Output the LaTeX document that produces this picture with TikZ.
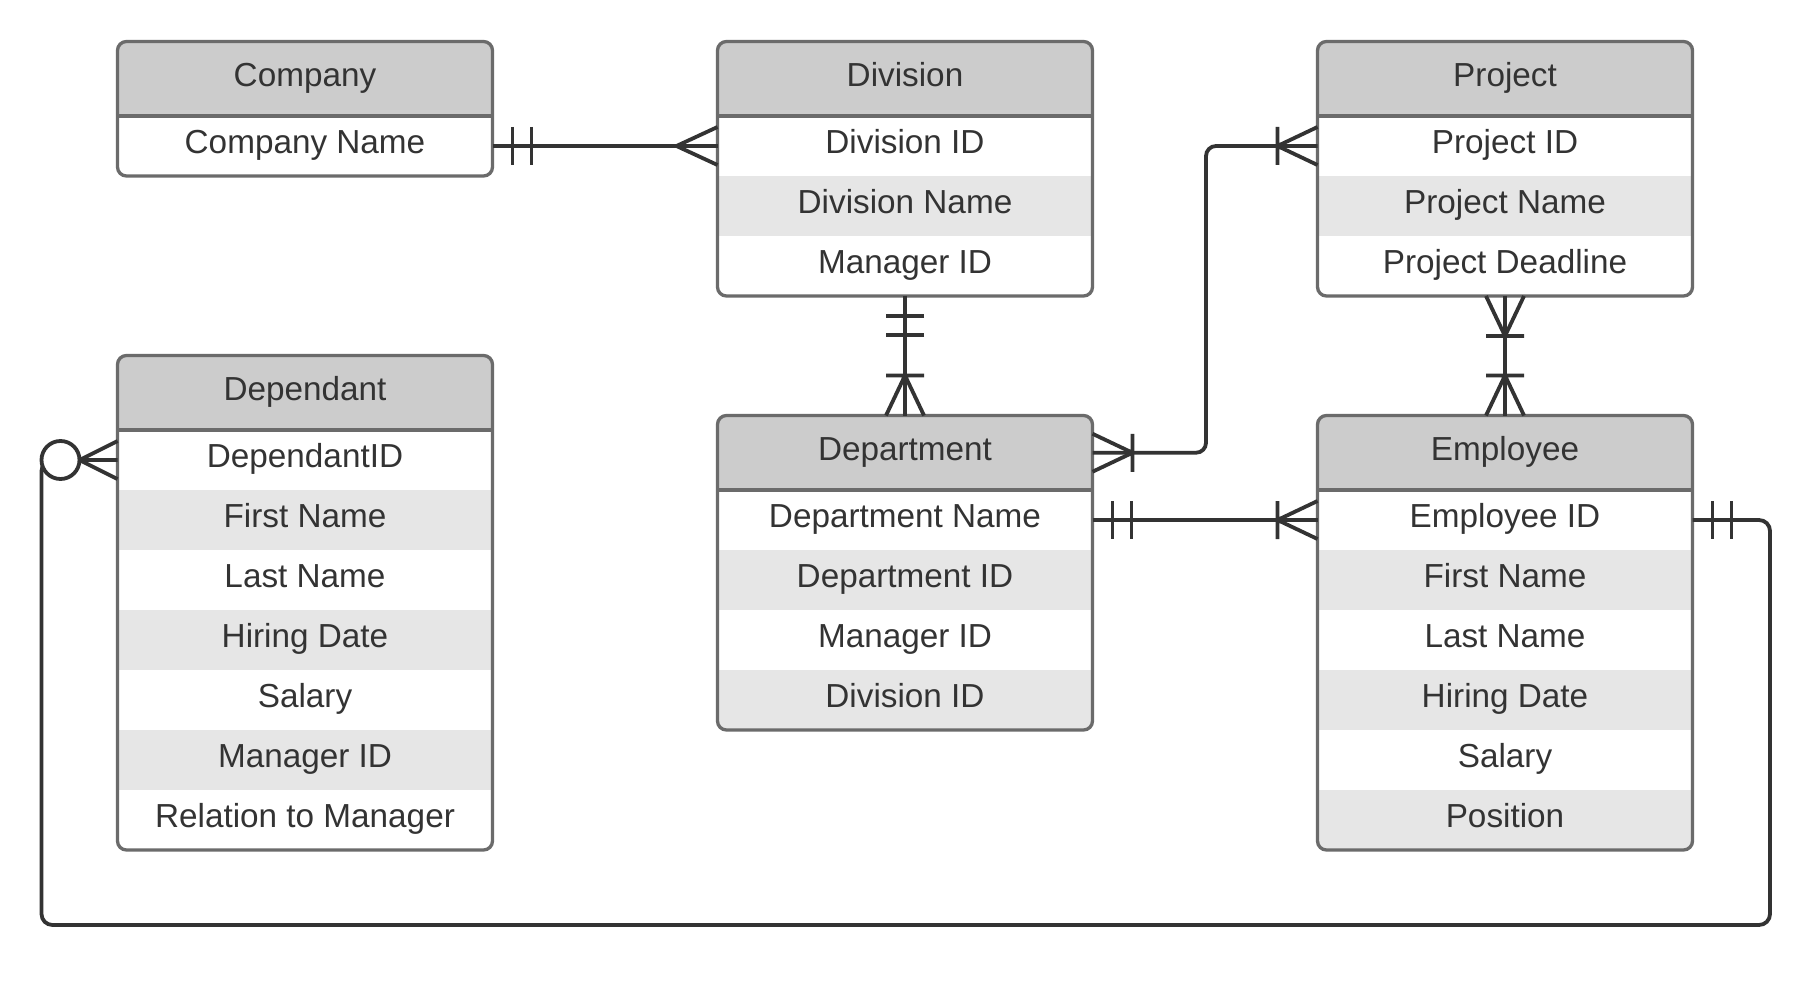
\documentclass[tikz,border=0pt]{standalone}
\usepackage{fontspec}
\setmainfont{Liberation Sans}
\definecolor{hdrgray}{HTML}{CCCCCC}
\definecolor{rowgray}{HTML}{E6E6E6}
\definecolor{framegray}{HTML}{6B6B6B}
\definecolor{ink}{HTML}{333333}

% Entity table: name, left x, top y, title, number of rows, row texts
\newcommand{\erentity}[6]{%
  \begin{scope}
    \clip[rounded corners=9] (#2,#3) rectangle ++(375,{74.5+#5*60});
    \node[entitle] (#1) at (#2,#3) {#4};
    \foreach \t [count=\i] in {#6}{%
      \ifodd\i\relax\def\rowfill{white}\else\def\rowfill{rowgray}\fi
      \node[enfield, fill=\rowfill] (#1-\i) at (#2,{#3+74.5+(\i-1)*60}) {\t};
    }
  \end{scope}
  \draw[entframe, rounded corners=9] (#2,#3) rectangle ++(375,{74.5+#5*60});
  \draw[entframe] (#2,{#3+74.5}) -- ++(375,0);
}

\begin{document}
\begin{tikzpicture}[x=1pt,y=-1pt,
  enfield/.style={minimum width=375, minimum height=60, inner sep=0, outer sep=0,
    anchor=north west, text=ink, font=\fontsize{33.3}{40}\selectfont,
    text height=23.5pt, text depth=8.5pt},
  entitle/.style={enfield, minimum height=74.5, fill=hdrgray},
  entframe/.style={draw=framegray, line width=3.3},
  conn/.style={draw=ink, line width=3.8},
  % relationship ends, drawn with the entity border at the origin
  mandone/.pic={\draw[conn] (20,-19) -- (20,19) (39,-19) -- (39,19);},
  crowmany/.pic={\draw[conn] (41,0) -- (0,-19) (41,0) -- (0,19);},
  crowonemany/.pic={\draw[conn] (40,0) -- (0,-19) (40,0) -- (0,19) (40,-19) -- (40,19);},
  crowzeromany/.pic={\draw[conn] (38,0) -- (0,-19) (38,0) -- (0,19);
    \draw[conn, fill=white] (57,0) circle[radius=19];}
]
\useasboundingbox (0,0) rectangle (1809,981);
\fill[white] (0,0) rectangle (1809,981);

\erentity{comp}{117.5}{41.5}{Company}{1}{Company Name}
\erentity{div}{717.5}{41.5}{Division}{3}{Division ID, Division Name, Manager ID}
\erentity{proj}{1317.5}{41.5}{Project}{3}{Project ID, Project Name, Project Deadline}
\erentity{dep}{117.5}{355.5}{Dependant}{7}{DependantID, First Name, Last Name, Hiring Date, Salary, Manager ID, Relation to Manager}
\erentity{dept}{717.5}{415.5}{Department}{4}{Department Name, Department ID, Manager ID, Division ID}
\erentity{emp}{1317.5}{415.5}{Employee}{6}{Employee ID, First Name, Last Name, Hiring Date, Salary, Position}

\coordinate (bendA) at (1206,0);
\coordinate (loopR) at (1770,925);
\coordinate (loopL) at (41.5,925);

% Company -- Division
\draw[conn] (comp-1.east) -- (div-1.west);
\pic at (comp-1.east) {mandone};
\pic[rotate=180] at (div-1.west) {crowmany};

% Division -- Department
\draw[conn] (div-3.south) -- (dept.north);
\pic[rotate=-90] at (div-3.south) {mandone};
\pic[rotate=90] at (dept.north) {crowonemany};

% Project -- Employee
\draw[conn] (proj-3.south) -- (emp.north);
\pic[rotate=-90] at (proj-3.south) {crowonemany};
\pic[rotate=90] at (emp.north) {crowonemany};

% Department -- Project
\draw[conn, rounded corners=10] (dept.east) -- (dept.east -| bendA) |- (proj-1.west);
\pic at (dept.east) {crowonemany};
\pic[rotate=180] at (proj-1.west) {crowonemany};

% Department -- Employee
\draw[conn] (dept-1.east) -- (emp-1.west);
\pic at (dept-1.east) {mandone};
\pic[rotate=180] at (emp-1.west) {crowonemany};

% Employee -- Dependant
\draw[conn, rounded corners=11] (emp-1.east) -| (loopR) -- (loopL) |- (dep-1.west);
\pic at (emp-1.east) {mandone};
\pic[rotate=180] at (dep-1.west) {crowzeromany};
\end{tikzpicture}
\end{document}
